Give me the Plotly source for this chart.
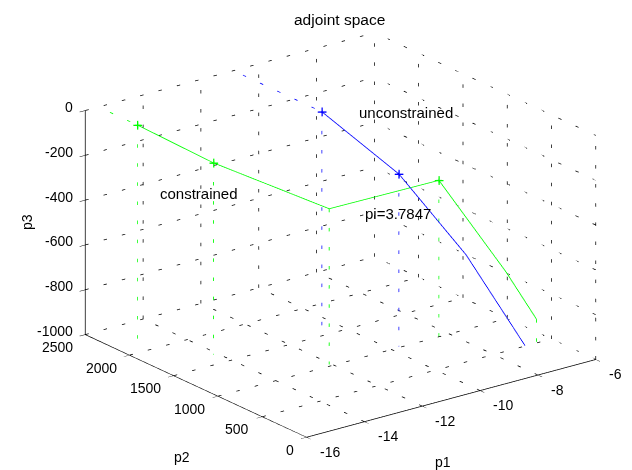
import plotly.graph_objects as go

# ---- data ----
green_p1 = [-15.47, -14.13, -12.07, -8.35, -7.12, -6.64]
green_p2 = [2083, 1661, 1028, 1004, 648, 461]
green_p3 = [-7, -145, -305, -303, -689, -882]
green_mark = [0, 1, 3]          # points drawn with '+'
green_stem = [0, 1, 2, 3, 5]    # points with a dotted drop line
green_tail = [[-15.47, -15.47], [2083, 2500], [-7, -7]]

blue_p1 = [-10.88, -9.70, -8.11, -6.90]
blue_p2 = [1499, 1015, 775, 504]
blue_p3 = [0, -230, -602, -1000]
blue_mark = [0, 1]
blue_stem = [0, 1]
blue_tail = [[-10.88, -10.88], [1499, 2500], [0, 0]]

x_ticks = [-16, -14, -12, -10, -8, -6]
y_ticks = [0, 500, 1000, 1500, 2000, 2500]
z_ticks = [-1000, -800, -600, -400, -200, 0]

GREEN = "#00ff00"
BLUE = "#0000ff"

xmin, xmax = x_ticks[0], x_ticks[-1]
ymin, ymax = y_ticks[0], y_ticks[-1]
zmin, zmax = z_ticks[0], z_ticks[-1]

# approximate on-screen pixels per data unit (style only: used to space the dots)
PX = (300.0 / (xmax - xmin), 245.0 / (ymax - ymin), 223.0 / (zmax - zmin))
PERIOD, DASH = 19.0, 3.5


def dotted(a, b, xs, ys, zs, phase=0.0):
    L = sum(((b[i] - a[i]) * PX[i]) ** 2 for i in range(3)) ** 0.5
    t = phase
    while t < L:
        t0, t1 = t / L, min(t + DASH, L) / L
        for lst, i in ((xs, 0), (ys, 1), (zs, 2)):
            lst.extend([a[i] + (b[i] - a[i]) * t0, a[i] + (b[i] - a[i]) * t1, None])
        t += PERIOD


fig = go.Figure()

# ---- dotted grid on the three back planes ----
gx, gy, gz = [], [], []
for x in x_ticks:
    if x != xmin:
        dotted((x, ymin, zmin), (x, ymax, zmin), gx, gy, gz)
        dotted((x, ymax, zmin), (x, ymax, zmax), gx, gy, gz)
for y in y_ticks:
    if y != ymin:
        dotted((xmin, y, zmin), (xmax, y, zmin), gx, gy, gz)
    dotted((xmax, y, zmin), (xmax, y, zmax), gx, gy, gz)
for z in z_ticks:
    dotted((xmin, ymax, z), (xmax, ymax, z), gx, gy, gz)
    dotted((xmax, ymin, z), (xmax, ymax, z), gx, gy, gz)
fig.add_trace(go.Scatter3d(x=gx, y=gy, z=gz, mode="lines",
                           line=dict(color="black", width=1.5),
                           hoverinfo="skip", showlegend=False))

# ---- axis lines ----
ax_x = [xmin, xmax, None, xmin, xmin, None, xmin, xmin]
ax_y = [ymin, ymin, None, ymin, ymax, None, ymax, ymax]
ax_z = [zmin, zmin, None, zmin, zmin, None, zmin, zmax]
fig.add_trace(go.Scatter3d(x=ax_x, y=ax_y, z=ax_z, mode="lines",
                           line=dict(color="black", width=1.5),
                           hoverinfo="skip", showlegend=False))


def drops(px, py, pz, idx, tail, color):
    sx, sy, sz = [], [], []
    for i in idx:
        dotted((px[i], py[i], pz[i]), (px[i], py[i], zmin), sx, sy, sz)
    dotted((tail[0][0], tail[1][0], tail[2][0]), (tail[0][1], tail[1][1], tail[2][1]), sx, sy, sz, phase=8)
    return go.Scatter3d(x=sx, y=sy, z=sz, mode="lines", line=dict(color=color, width=1.6),
                        hoverinfo="skip", showlegend=False)


fig.add_trace(drops(green_p1, green_p2, green_p3, green_stem, green_tail, GREEN))
fig.add_trace(drops(blue_p1, blue_p2, blue_p3, blue_stem, blue_tail, BLUE))

# ---- trajectories ----
fig.add_trace(go.Scatter3d(x=green_p1, y=green_p2, z=green_p3, mode="lines",
                           line=dict(color=GREEN, width=1.6), name="constrained", showlegend=False))
fig.add_trace(go.Scatter3d(x=blue_p1, y=blue_p2, z=blue_p3, mode="lines",
                           line=dict(color=BLUE, width=1.6), name="unconstrained", showlegend=False))

for px, py, pz, idx, col in ((green_p1, green_p2, green_p3, green_mark, GREEN),
                             (blue_p1, blue_p2, blue_p3, blue_mark, BLUE)):
    fig.add_trace(go.Scatter3d(x=[px[i] for i in idx], y=[py[i] for i in idx], z=[pz[i] for i in idx],
                               mode="text", text=["+"] * len(idx),
                               textfont=dict(color=col, size=18, family="Arial"),
                               textposition="middle center", hoverinfo="skip", showlegend=False))

# ---- tick labels (anchored to the data positions of the ticks) ----
TF = dict(family="Arial", size=14, color="black")
scene_ann = []
for x in x_ticks:
    scene_ann.append(dict(x=x, y=ymin, z=zmin, text=str(x), showarrow=False, xanchor="left",
                          yanchor="middle", xshift=11, yshift=-14, font=TF))
for y in y_ticks:
    scene_ann.append(dict(x=xmin, y=y, z=zmin, text=str(y), showarrow=False, xanchor="right",
                          yanchor="middle", xshift=-11, yshift=-12, font=TF))
for z in z_ticks:
    scene_ann.append(dict(x=xmin, y=ymax, z=z, text=str(z), showarrow=False, xanchor="right",
                          yanchor="middle", xshift=-11, yshift=4, font=TF))

eye_dir = (-0.5667, -0.7443, 0.3533)
axis_common = dict(showgrid=False, zeroline=False, showbackground=False, showspikes=False,
                   showline=True, linecolor="black", linewidth=1,
                   ticks="outside", ticklen=7, tickcolor="black", tickwidth=1,
                   showticklabels=True, tickfont=dict(size=1, color="rgba(0,0,0,0)"),
                   title=dict(text=""))


def pa(text, x, y, size=15, xanchor="center", angle=0):
    return dict(text=text, x=x / 632, y=1 - y / 470, xref="paper", yref="paper", xanchor=xanchor,
                yanchor="middle", showarrow=False, textangle=angle, font=dict(size=size))


fig.update_layout(
    width=632, height=470, margin=dict(l=0, r=0, t=0, b=0),
    paper_bgcolor="white", font=dict(family="Arial", color="black"),
    scene=dict(
        domain=dict(x=[0.078, 1.0], y=[0.003, 0.995]),
        xaxis=dict(range=[xmin, xmax], tickvals=x_ticks, **axis_common),
        yaxis=dict(range=[ymin, ymax], tickvals=y_ticks, **axis_common),
        zaxis=dict(range=[zmin, zmax], tickvals=z_ticks, **axis_common),
        aspectmode="manual", aspectratio=dict(x=1.56, y=1.568, z=1.028),
        camera=dict(eye=dict(x=eye_dir[0] * 2, y=eye_dir[1] * 2, z=eye_dir[2] * 2),
                    up=dict(x=0, y=0, z=1), center=dict(x=0, y=0, z=0),
                    projection=dict(type="orthographic")),
        annotations=scene_ann,
    ),
    annotations=[
        pa("adjoint space", 339, 20, size=15.5),
        pa("unconstrained", 357, 113, xanchor="left"),
        pa("constrained", 158, 193, xanchor="left"),
        pa("pi=3.7847", 363, 213, xanchor="left"),
        pa("p1", 443, 462, size=14),
        pa("p2", 182, 457, size=14),
        pa("p3", 27, 222, size=14, angle=-90),
    ],
)
fig.write_html("out.html", config={"displayModeBar": False},
               post_script="document.body.style.margin='0';")
